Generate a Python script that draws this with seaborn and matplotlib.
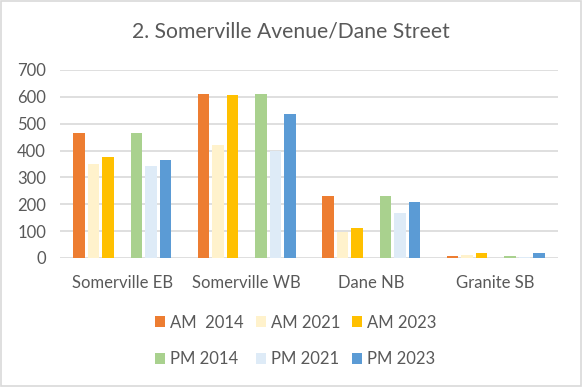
import matplotlib
matplotlib.use("Agg")
import matplotlib.pyplot as plt
import seaborn as sns
import pandas as pd
import numpy as np
from matplotlib.patches import Patch, FancyBboxPatch

categories = ["Somerville EB", "Somerville WB", "Dane NB", "Granite SB"]
am_2014 = [465, 611, 231, 6]
am_2021 = [350, 421, 97, 10]
am_2023 = [377, 607, 111, 17]
pm_2014 = [465, 611, 231, 6]
pm_2021 = [343, 400, 167, 5]
pm_2023 = [365, 537, 208, 17]

series_labels = ["AM  2014", "AM 2021", "AM 2023", "PM 2014", "PM 2021", "PM 2023"]
series_values = [am_2014, am_2021, am_2023, pm_2014, pm_2021, pm_2023]
colors = ["#ED7D31", "#FFF2CC", "#FFC000", "#A9D18E", "#DEEBF7", "#5B9BD5"]
yticks = [0, 100, 200, 300, 400, 500, 600, 700]

blank = " "
rows = []
for lab, vals in zip(series_labels, series_values):
    for c, v in zip(categories, vals):
        rows.append({"cat": c, "series": lab, "value": v})
for c in categories:
    rows.append({"cat": c, "series": blank, "value": 0})
df = pd.DataFrame(rows)
hue_order = series_labels[:3] + [blank] + series_labels[3:]
palette = dict(zip(series_labels, colors))
palette[blank] = "#FFFFFF"

sns.set_style("white")
plt.rcParams["font.family"] = ["Lato", "DejaVu Sans"]
txt = "#595959"

fig = plt.figure(figsize=(5.82, 3.87), dpi=100)
ax = fig.add_axes([60/582, 1-258/387, 498/582, (258-70)/387])
sns.barplot(data=df, x="cat", y="value", hue="series", hue_order=hue_order,
            order=categories, palette=palette, width=0.81, gap=0.2,
            saturation=1, legend=False, ax=ax, errorbar=None, linewidth=0)
ax.set_ylim(0, 700)
ax.set_yticks(yticks)
ax.set_xlim(-0.5, 3.5)
ax.yaxis.grid(True, color="#D9D9D9", linewidth=1.2)
ax.set_axisbelow(True)
for s in ["top", "right", "left", "bottom"]:
    ax.spines[s].set_visible(False)
ax.tick_params(axis="both", length=0, labelsize=12, colors=txt)
ax.tick_params(axis="y", pad=10)
ax.tick_params(axis="x", pad=12)
ax.set_xlabel("")
ax.set_ylabel("")

fig.text(0.5, 1-32/387, "2. Somerville Avenue/Dane Street", ha="center", va="center",
         fontsize=15.2, color=txt)

handles = [Patch(facecolor=c, edgecolor="none") for c in colors]
order = [0, 3, 1, 4, 2, 5]
fig.legend([handles[i] for i in order], [series_labels[i] for i in order], ncol=3,
           loc="center", bbox_to_anchor=(0.508, 1-341/387),
           frameon=False, fontsize=12, labelcolor=txt, handlelength=0.6, handleheight=0.6,
           handletextpad=0.3, columnspacing=0.7, labelspacing=1.25)

border = FancyBboxPatch((1/582, 1/387), 1-2/582, 1-2/387, boxstyle="square,pad=0",
                        transform=fig.transFigure, facecolor="none", edgecolor="#D9D9D9",
                        linewidth=1.2)
fig.patches.append(border)

fig.savefig("out.png", dpi=100)
